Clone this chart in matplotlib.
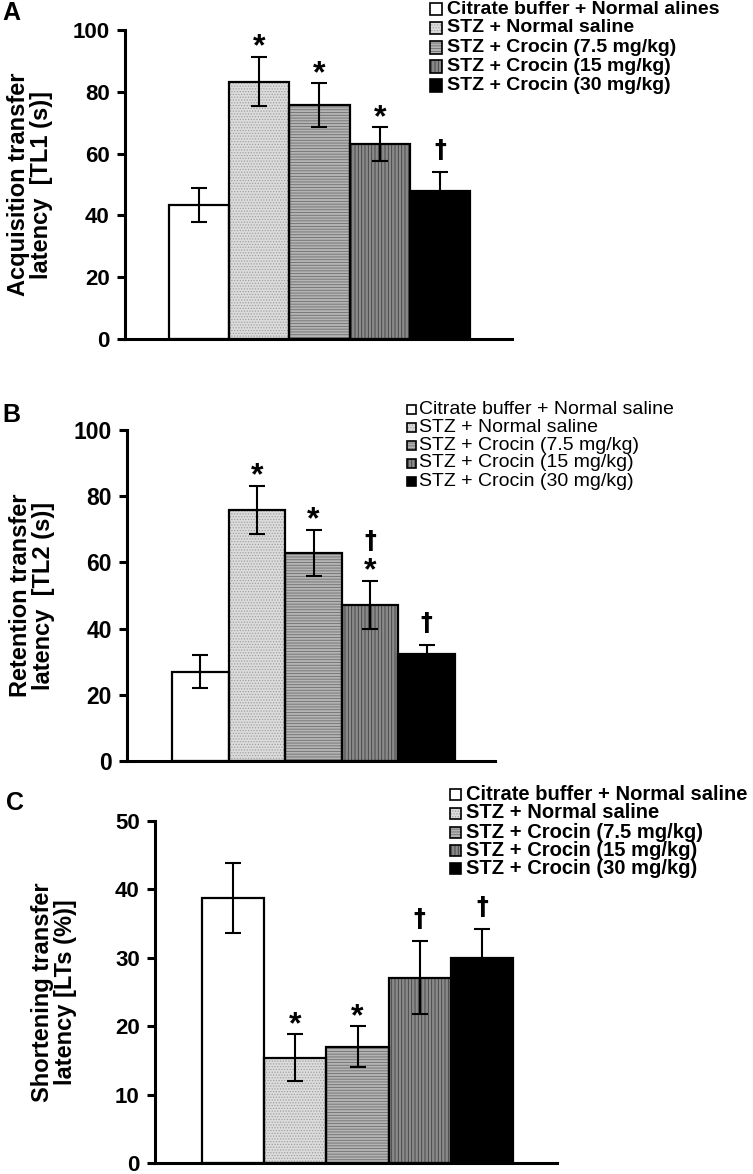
import matplotlib
matplotlib.use("Agg")
import matplotlib.pyplot as plt
from matplotlib.patches import Rectangle

plt.rcParams['font.family'] = ['Liberation Sans', 'DejaVu Sans']
plt.rcParams['hatch.linewidth'] = 0.6

W, H = 753, 1174

groups_a = ["Citrate buffer + Normal alines", "STZ + Normal saline", "STZ + Crocin (7.5 mg/kg)",
            "STZ + Crocin (15 mg/kg)", "STZ + Crocin (30 mg/kg)"]
groups = ["Citrate buffer + Normal saline", "STZ + Normal saline", "STZ + Crocin (7.5 mg/kg)",
          "STZ + Crocin (15 mg/kg)", "STZ + Crocin (30 mg/kg)"]

# panel A - acquisition transfer latency (s)
tl1_mean = [43.5, 83.3, 75.7, 63.0, 48.0]
tl1_err = [5.5, 8.0, 7.0, 5.5, 6.0]
tl1_sig = [[], ["*"], ["*"], ["*"], ["†"]]

# panel B - retention transfer latency (s)
tl2_mean = [27.0, 75.8, 62.8, 47.1, 32.3]
tl2_err = [4.9, 7.3, 7.0, 7.3, 2.7]
tl2_sig = [[], ["*"], ["*"], ["*", "†"], ["†"]]

# panel C - shortening (%)
lts_mean = [38.7, 15.4, 17.0, 27.1, 29.9]
lts_err = [5.1, 3.4, 3.0, 5.3, 4.3]
lts_sig = [[], ["*"], ["*"], ["†"], ["†"]]

# fill / hatch style of each group
faces = ["white", "#dcdcdc", "#b4b4b4", "#8a8a8a", "black"]
hatches = [None, "......", "------", "|||||", None]
hatch_cols = ["black", "#a0a0a0", "#6e6e6e", "#404040", "black"]


def fx(px):
    return px / W


def fy(py):
    return 1 - py / H


def draw_panel(fig, box, bars_px, means, errs, sigs, ymax, yticks, ylabel, lab_x, tick_fs,
               letter, letter_pos):
    # box = (left, top, right, bottom) in pixels
    l, t, r, b = box
    ax = fig.add_axes([fx(l), fy(b), (r - l) / W, (b - t) / H])
    b0, b1 = bars_px
    unit = (b1 - b0) / len(means)
    ax.set_xlim(-0.5 - (b0 - l) / unit, len(means) - 0.5 + (r - b1) / unit)
    ax.set_ylim(0, ymax)
    x = list(range(len(means)))
    # hatch layer then outline
    for i in x:
        ax.bar(i, means[i], width=1.0, color=faces[i], edgecolor=hatch_cols[i],
               hatch=hatches[i], linewidth=0, zorder=2)
    ax.bar(x, means, width=1.0, fill=False, edgecolor="black", linewidth=1.6, zorder=3)
    ax.errorbar(x, means, yerr=errs, fmt="none", ecolor="black", elinewidth=1.5,
                capsize=6, capthick=1.5, zorder=4)
    for i in x:
        top = means[i] + errs[i]
        off = 1.0
        for s in sigs[i]:
            if s == "*":
                ax.annotate(s, (i, top), xytext=(0, off), textcoords="offset points",
                            ha="center", va="baseline", fontsize=23, fontweight="bold")
                off += 13
            else:
                ax.annotate(s, (i, top), xytext=(0, off + 10), textcoords="offset points",
                            ha="center", va="baseline", fontsize=17, fontweight="bold",
                            family="DejaVu Sans")
                off += 24
    for sp in ["top", "right"]:
        ax.spines[sp].set_visible(False)
    for sp in ["left", "bottom"]:
        ax.spines[sp].set_linewidth(2.2)
    ax.set_xticks([])
    ax.set_yticks(yticks)
    ax.tick_params(axis="y", direction="out", length=6, width=2.2, pad=5,
                   labelsize=tick_fs)
    for lb in ax.get_yticklabels():
        lb.set_fontweight("bold")
    ax.set_ylabel(ylabel, fontsize=17, fontweight="bold", va="center", linespacing=1.0)
    ax.yaxis.set_label_coords((lab_x - l) / (r - l), 0.5)
    fig.text(fx(letter_pos[0]), fy(letter_pos[1]), letter, fontsize=18, fontweight="bold",
             ha="left", va="top")
    return ax


def draw_legend(fig, labels, box_x, box_size, text_x, rows_y, fs, weight):
    for i, lab in enumerate(labels):
        y = rows_y[i]
        rect = Rectangle((fx(box_x), fy(y + box_size / 2)), box_size / W, box_size / H,
                         transform=fig.transFigure, facecolor=faces[i],
                         edgecolor=hatch_cols[i], hatch=hatches[i], linewidth=0)
        fig.patches.append(rect)
        fig.patches.append(Rectangle((fx(box_x), fy(y + box_size / 2)), box_size / W,
                                     box_size / H, transform=fig.transFigure, fill=False,
                                     edgecolor="black", linewidth=1.2))
        fig.text(fx(text_x), fy(y), lab, fontsize=fs, fontweight=weight, ha="left",
                 va="center")


fig = plt.figure(figsize=(W / 100, H / 100), dpi=100)

draw_panel(fig, (125, 30, 512, 339), (169, 470), tl1_mean, tl1_err, tl1_sig, 100,
           [0, 20, 40, 60, 80, 100], "Acquisition transfer\nlatency  [TL1 (s)]", 30, 16,
           "A", (2, 1))
draw_legend(fig, groups_a, 430, 12, 447, [9, 28, 47.5, 66.5, 85.5], 14, "bold")

draw_panel(fig, (127, 430, 495, 761), (172, 455), tl2_mean, tl2_err, tl2_sig, 100,
           [0, 20, 40, 60, 80, 100], "Retention transfer\nlatency  [TL2 (s)]", 32, 16.5,
           "B", (2, 403))
draw_legend(fig, groups, 407, 9, 419, [409, 427, 445, 463, 481], 14, "normal")

draw_panel(fig, (155, 821, 557, 1163), (202, 513), lts_mean, lts_err, lts_sig, 50,
           [0, 10, 20, 30, 40, 50], "Shortening transfer\nlatency [LTs (%)]", 54, 16,
           "C", (6, 791))
draw_legend(fig, groups, 450, 11, 466, [794, 813, 832, 850, 868], 14.5, "bold")

fig.savefig("out.png", dpi=100)
